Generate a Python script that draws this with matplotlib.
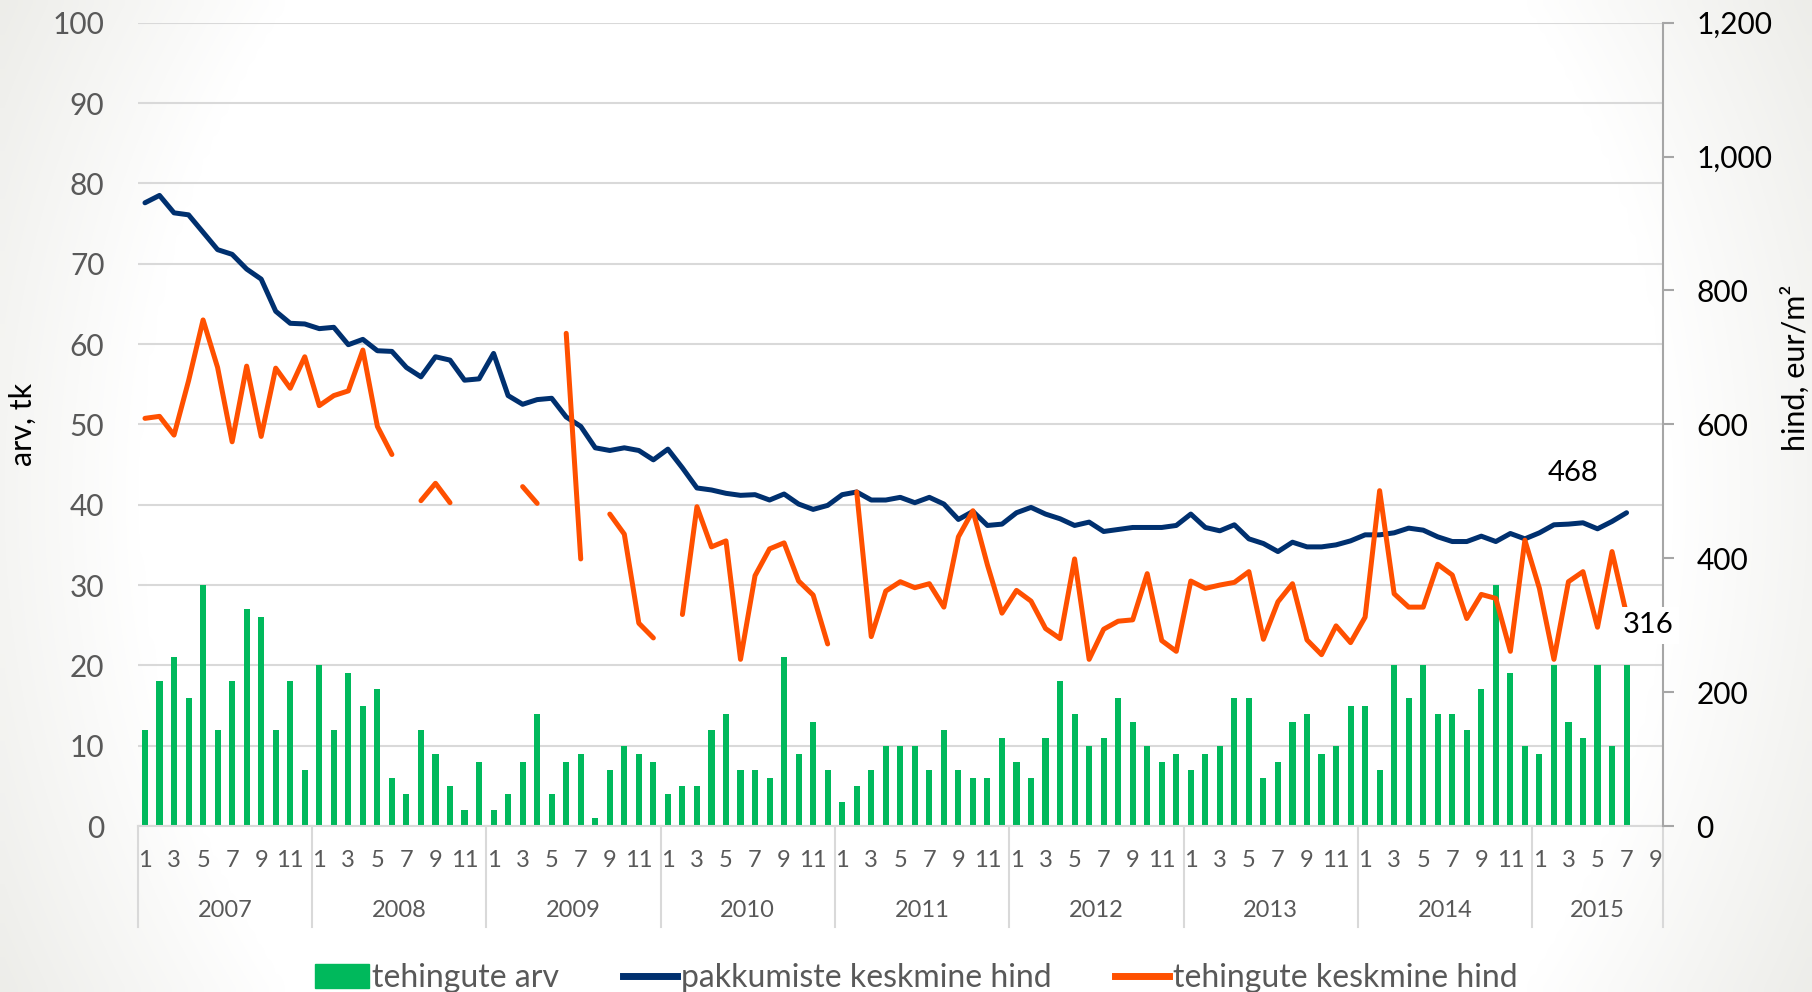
import numpy as np
import matplotlib
matplotlib.use('Agg')
from matplotlib import pyplot as plt
from matplotlib.ticker import FuncFormatter, MultipleLocator
from matplotlib.patches import Patch
from matplotlib.lines import Line2D
from matplotlib.colors import LinearSegmentedColormap
import matplotlib.transforms as mtransforms

plt.rcParams['font.family'] = ['Lato', 'DejaVu Sans']

# categories: months 2007-01 .. 2015-09
years = [2007, 2008, 2009, 2010, 2011, 2012, 2013, 2014, 2015]
months_per_year = [12, 12, 12, 12, 12, 12, 12, 12, 9]

# tehingute arv, tk (bars, left axis)
tehingute_arv = [
    12, 18, 21, 16, 30, 12, 18, 27, 26, 12, 18, 7,
    20, 12, 19, 15, 17, 6, 4, 12, 9, 5, 2, 8,
    2, 4, 8, 14, 4, 8, 9, 1, 7, 10, 9, 8,
    4, 5, 5, 12, 14, 7, 7, 6, 21, 9, 13, 7,
    3, 5, 7, 10, 10, 10, 7, 12, 7, 6, 6, 11,
    8, 6, 11, 18, 14, 10, 11, 16, 13, 10, 8, 9,
    7, 9, 10, 16, 16, 6, 8, 13, 14, 9, 10, 15,
    15, 7, 20, 16, 20, 14, 14, 12, 17, 30, 19, 10,
    9, 20, 13, 11, 20, 10, 20,
]

# pakkumiste keskmine hind, eur/m2 (right axis)
pakkumiste_hind = [
    931, 942, 916, 913, 887, 861, 854, 832, 817, 769, 751, 750,
    743, 745, 719, 727, 710, 709, 685, 671, 701, 696, 666, 668,
    706, 643, 630, 637, 639, 611, 597, 565, 561, 565, 561, 547,
    563, 535, 505, 502, 497, 494, 495, 487, 496, 481, 473, 479,
    495, 499, 487, 487, 491, 483, 491, 481, 458, 470, 449, 451,
    468, 476, 466, 459, 449, 454, 440, 443, 446, 446, 446, 449,
    466, 446, 441, 450, 429, 422, 410, 424, 417, 417, 420, 426,
    435, 435, 438, 445, 442, 432, 425, 425, 433, 425, 437, 429,
    438, 450, 451, 453, 444, 455, 468,
]

# tehingute keskmine hind, eur/m2 (right axis), None = no data
tehingute_hind = [
    609, 612, 584, 665, 756, 685, 574, 687, 582, 684, 654, 701,
    628, 643, 650, 711, 597, 555, None, 486, 512, 483, None, None,
    None, None, 507, 482, None, 736, 399, None, 466, 436, 303, 281,
    None, 316, 477, 417, 426, 249, 374, 414, 423, 366, 345, 272,
    None, 499, 283, 351, 365, 356, 362, 327, 432, 471, 390, 318,
    352, 336, 295, 280, 399, 249, 294, 306, 308, 377, 277, 261,
    366, 355, 360, 364, 380, 279, 335, 362, 278, 256, 299, 274,
    312, 501, 347, 327, 327, 391, 375, 310, 346, 340, 261, 427,
    355, 249, 365, 380, 297, 410, 316,
]

GREEN = '#00b95c'
NAVY = '#00306f'
ORANGE = '#ff5000'
GRID = '#d9d9d9'
GREYTXT = '#595959'

n_cat = sum(months_per_year)
month_nr = [m for n in months_per_year for m in range(1, n + 1)]

fig = plt.figure(figsize=(18.12, 9.92), dpi=100)

# faint grey at the left and right edges of the slide
bg = fig.add_axes([0, 0, 1, 1], zorder=-10)
gx, gy = np.meshgrid(np.linspace(-1, 1, 200), np.linspace(-1, 1, 120))
shade = np.clip(np.hypot(gx, gy * 0.5) - 0.85, 0, None)
bg.imshow(shade, cmap=LinearSegmentedColormap.from_list('bg', ['#ffffff', '#ebebe7']),
          vmin=0, vmax=0.3, aspect='auto', extent=[0, 1, 0, 1], interpolation='bilinear')
bg.axis('off')

ax = fig.add_axes([0.076, 0.1673, 0.8417, 0.8098])
ax.patch.set_alpha(0)
ax2 = ax.twinx()

# bars
x_bar = np.arange(len(tehingute_arv))
ax.bar(x_bar, tehingute_arv, width=0.42, color=GREEN, zorder=2)
ax.set_xlim(-0.5, n_cat - 0.5)
ax.set_ylim(0, 100)
ax.yaxis.set_major_locator(MultipleLocator(10))
ax.grid(axis='y', color=GRID, lw=1.5)
ax.set_axisbelow(True)
ax.tick_params(axis='y', length=0, pad=24, labelsize=21.5, labelcolor=GREYTXT)
for s in ['top', 'left', 'right']:
    ax.spines[s].set_visible(False)
ax.spines['bottom'].set_color(GRID)
ax.spines['bottom'].set_linewidth(1.5)
ax.set_ylabel('arv, tk', fontsize=22)
ax.yaxis.set_label_coords(-0.066, 0.5)

# month labels on odd months
tick_pos = [i for i in range(n_cat) if month_nr[i] % 2 == 1]
ax.set_xticks(tick_pos, [str(month_nr[i]) for i in tick_pos])
ax.tick_params(axis='x', length=0, pad=17, labelsize=17, labelcolor=GREYTXT)

# year labels and separators
trans = mtransforms.blended_transform_factory(ax.transData, ax.transAxes)
start = 0
for yr, n in zip(years, months_per_year):
    ax.text(start + (n - 1) / 2, -0.1046, str(yr), transform=trans,
            ha='center', va='center', fontsize=17, color=GREYTXT)
    ax.plot([start - 0.5, start - 0.5], [0, -0.126], transform=trans,
            color=GRID, lw=1.5, clip_on=False)
    start += n
ax.plot([start - 0.5, start - 0.5], [0, -0.126], transform=trans,
        color=GRID, lw=1.5, clip_on=False)

# price lines
blue = np.array(pakkumiste_hind, dtype=float)
orange = np.array([np.nan if v is None else v for v in tehingute_hind], dtype=float)
ax2.plot(np.arange(len(blue)), blue, color=NAVY, lw=3.6,
         solid_joinstyle='round', solid_capstyle='round', zorder=3)
ax2.plot(np.arange(len(orange)), orange, color=ORANGE, lw=3.6,
         solid_joinstyle='round', solid_capstyle='round', zorder=3)
ax2.set_ylim(0, 1200)
ax2.yaxis.set_major_locator(MultipleLocator(200))
ax2.yaxis.set_major_formatter(FuncFormatter(lambda v, p: f'{v:,.0f}'))
ax2.tick_params(axis='y', direction='out', length=8, width=1.5, color='#a6a6a6',
                pad=16, labelsize=21.5, labelcolor='black')
for s in ['top', 'left', 'bottom']:
    ax2.spines[s].set_visible(False)
ax2.spines['right'].set_color('#a6a6a6')
ax2.spines['right'].set_linewidth(1.5)
ax2.set_ylabel('hind, eur/m²', fontsize=22)
ax2.yaxis.set_label_coords(1.077, 0.571)

# end value labels
last = len(blue) - 1
ax2.annotate(f'{blue[last]:.0f}', xy=(last, blue[last]), xytext=(-54, 40),
             textcoords='offset pixels', ha='center', va='center', fontsize=21,
             zorder=6)
ax2.annotate(f'{orange[last]:.0f}', xy=(last, orange[last]), xytext=(22, -11),
             textcoords='offset pixels', ha='center', va='center', fontsize=21,
             bbox=dict(fc='white', ec='none', pad=4), zorder=6)

# legend
handles = [
    Patch(color=GREEN, label='tehingute arv'),
    Line2D([0], [0], color=NAVY, lw=5, label='pakkumiste keskmine hind'),
    Line2D([0], [0], color=ORANGE, lw=5, label='tehingute keskmine hind'),
]
fig.legend(handles=handles, loc='center', bbox_to_anchor=(916 / 1812, 1 - 978 / 992),
           ncol=3, frameon=False, fontsize=23, labelcolor=GREYTXT,
           handlelength=1.7, handleheight=0.75, handletextpad=0.1, columnspacing=2.0)

fig.savefig('out.png', dpi=100)
